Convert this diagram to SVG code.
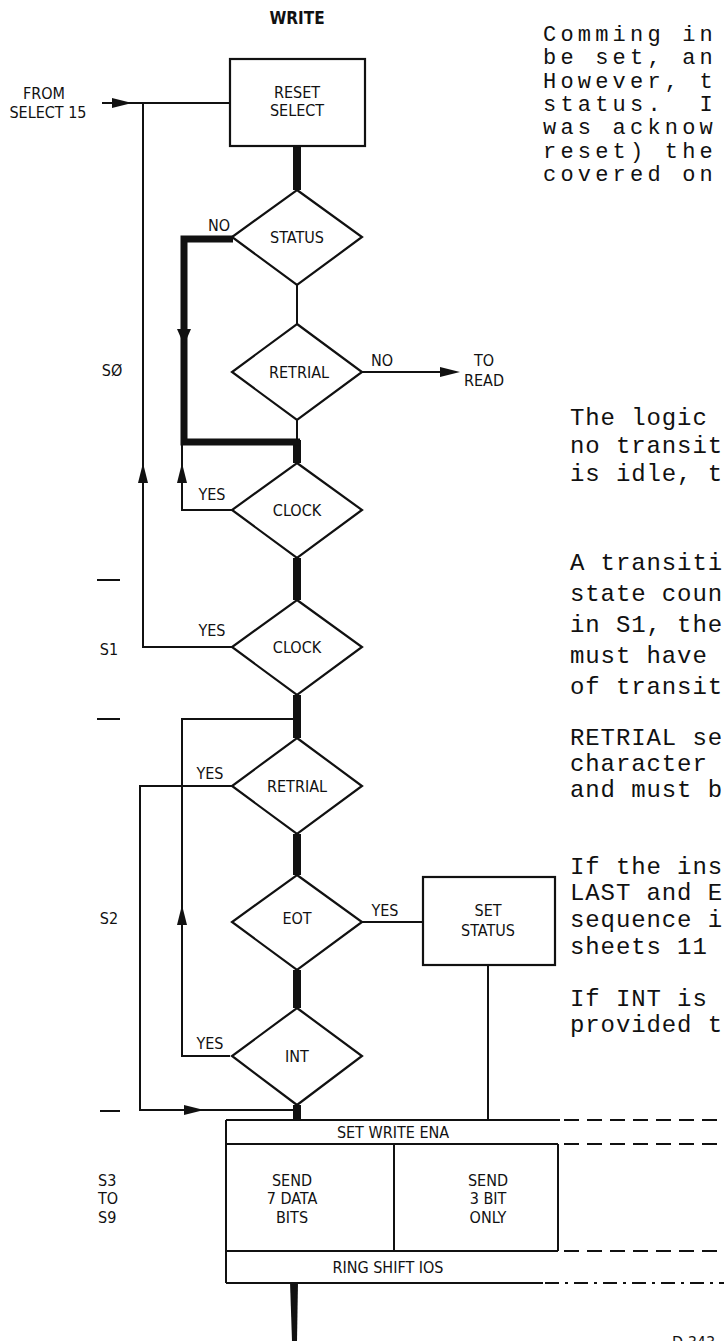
<svg xmlns="http://www.w3.org/2000/svg" xmlns:xlink="http://www.w3.org/1999/xlink" width="724" height="1341" viewBox="0 0 724 1341">
<style>
.lbl{font-family:"DejaVu Sans Condensed","DejaVu Sans",sans-serif;font-stretch:condensed;font-size:16px;fill:#111;text-anchor:middle}
.lft{text-anchor:start}
.ttl{font-weight:bold;font-size:17px}
.tw{font-family:"Liberation Mono","Courier New",monospace;font-size:24px;letter-spacing:0.9px;fill:#111}
.tw1{font-size:22px;letter-spacing:4.2px}
.shape{fill:#fff;stroke:#111;stroke-width:2.2}
.thin{fill:none;stroke:#111;stroke-width:2}
.thick{fill:none;stroke:#111;stroke-width:8}
.thick2{fill:none;stroke:#111;stroke-width:7}
.dash{fill:none;stroke:#111;stroke-width:2;stroke-dasharray:15 8}
.dashdot{fill:none;stroke:#111;stroke-width:2;stroke-dasharray:14 6 3 6}
.tick{stroke:#111;stroke-width:2}
</style>
<defs>
<path id="ah" d="M0,0 L-20,-5 L-20,5 Z" fill="#111"/>
<path id="ahb" d="M0,0 L-16,-7 L-16,7 Z" fill="#111"/>
</defs>
<rect width="724" height="1341" fill="#fff"/>

<text class="lbl ttl" x="297" y="24">WRITE</text>

<g id="connectors">
  <path class="thin" d="M102,103 H230"/>
  <use xlink:href="#ah" transform="translate(132,103)"/>
  <path class="thin" d="M143,103 V647 H232"/>
  <use xlink:href="#ah" transform="translate(143,463) rotate(-90)"/>
  <path class="thick" d="M297,146 V190"/>
  <path class="thin" d="M297,285 V324"/>
  <path class="thin" d="M297,420 V442"/>
  <path class="thick" d="M297,440 V463"/>
  <path class="thick" d="M297,558 V600"/>
  <path class="thick" d="M297,695 V738"/>
  <path class="thick" d="M297,834 V875"/>
  <path class="thick" d="M297,970 V1008"/>
  <path class="thick" d="M297,1105 V1119"/>
  <path d="M290,1282 L298,1282 L297,1341 L292,1341 Z" fill="#111"/>
  <path class="thick2" d="M233,239 H184 V442 H300"/>
  <use xlink:href="#ahb" transform="translate(184,345) rotate(90)"/>
  <path class="thin" d="M362,372 H455"/>
  <use xlink:href="#ah" transform="translate(460,372)"/>
  <path class="thin" d="M232,510 H182 V442"/>
  <use xlink:href="#ah" transform="translate(182,463) rotate(-90)"/>
  <path class="thin" d="M230,1056 H182 V719 H297"/>
  <use xlink:href="#ah" transform="translate(182,905) rotate(-90)"/>
  <path class="thin" d="M232,786 H140 V1110 H297"/>
  <use xlink:href="#ah" transform="translate(204,1110)"/>
  <path class="thin" d="M362,922 H423"/>
  <path class="thin" d="M488,965 V1120"/>
  <path class="tick" d="M97,580 H120 M97,719 H120 M100,1111 H120"/>
</g>

<g id="labels">
  <text class="lbl" x="44" y="99">FROM</text>
  <text class="lbl" x="48" y="118">SELECT 15</text>
  <text class="lbl" x="219" y="231">NO</text>
  <text class="lbl" x="112" y="376">SØ</text>
  <text class="lbl" x="382" y="366">NO</text>
  <text class="lbl" x="484" y="366">TO</text>
  <text class="lbl" x="484" y="386">READ</text>
  <text class="lbl" x="212" y="500">YES</text>
  <text class="lbl" x="212" y="636">YES</text>
  <text class="lbl" x="109" y="655">S1</text>
  <text class="lbl" x="210" y="779">YES</text>
  <text class="lbl" x="385" y="916">YES</text>
  <text class="lbl" x="109" y="924">S2</text>
  <text class="lbl" x="210" y="1049">YES</text>
  <text class="lbl lft" x="98" y="1186">S3</text>
  <text class="lbl lft" x="98" y="1204">TO</text>
  <text class="lbl lft" x="98" y="1223">S9</text>
  <text class="lbl lft" x="672" y="1348">D 343</text>
</g>

<g id="reset-select">
  <rect class="shape" x="230" y="59" width="135" height="87"/>
  <text class="lbl" x="297" y="98">RESET</text>
  <text class="lbl" x="297" y="116">SELECT</text>
</g>
<g id="status">
  <polygon class="shape" points="297,190 362,237 297,285 232,237"/>
  <text class="lbl" x="297" y="243">STATUS</text>
</g>
<g id="retrial1">
  <polygon class="shape" points="297,324 362,372 297,420 232,372"/>
  <text class="lbl" x="299" y="378">RETRIAL</text>
</g>
<g id="clock1">
  <polygon class="shape" points="297,463 362,510 297,558 232,510"/>
  <text class="lbl" x="297" y="516">CLOCK</text>
</g>
<g id="clock2">
  <polygon class="shape" points="297,600 362,647 297,695 232,647"/>
  <text class="lbl" x="297" y="653">CLOCK</text>
</g>
<g id="retrial2">
  <polygon class="shape" points="297,738 362,786 297,834 232,786"/>
  <text class="lbl" x="297" y="792">RETRIAL</text>
</g>
<g id="eot">
  <polygon class="shape" points="297,875 362,922 297,970 232,922"/>
  <text class="lbl" x="297" y="924">EOT</text>
</g>
<g id="int">
  <polygon class="shape" points="297,1008 362,1056 297,1105 232,1056"/>
  <text class="lbl" x="297" y="1062">INT</text>
</g>
<g id="set-status">
  <rect class="shape" x="423" y="877" width="132" height="88"/>
  <text class="lbl" x="488" y="916">SET</text>
  <text class="lbl" x="488" y="936">STATUS</text>
</g>
<g id="write-block">
  <path class="thin" d="M226,1120 H560 M226,1144 H558 M226,1251 H558 M226,1283 H543 M226,1120 V1283 M394,1144 V1251 M558,1144 V1251"/>
  <path class="dash" d="M564,1120 H724 M564,1144 H724 M564,1251 H724"/>
  <path class="dashdot" d="M545,1283 H724"/>
  <text class="lbl" x="393" y="1138">SET WRITE ENA</text>
  <text class="lbl" x="292" y="1186">SEND</text>
  <text class="lbl" x="292" y="1204">7 DATA</text>
  <text class="lbl" x="292" y="1223">BITS</text>
  <text class="lbl" x="488" y="1186">SEND</text>
  <text class="lbl" x="488" y="1204">3 BIT</text>
  <text class="lbl" x="488" y="1223">ONLY</text>
  <text class="lbl" x="388" y="1273">RING SHIFT IOS</text>
</g>

<g id="notes" class="tw">
  <g class="tw1">
    <text x="543" y="41">Comming in</text>
    <text x="543" y="64">be set, an</text>
    <text x="543" y="88">However, t</text>
    <text x="543" y="111" xml:space="preserve">status.  I</text>
    <text x="543" y="134">was acknow</text>
    <text x="543" y="158">reset) the</text>
    <text x="543" y="181">covered on</text>
  </g>

  <text x="570" y="425">The logic</text>
  <text x="570" y="453">no transit</text>
  <text x="570" y="481">is idle, t</text>

  <text x="570" y="570">A transiti</text>
  <text x="570" y="601">state coun</text>
  <text x="570" y="632">in S1, the</text>
  <text x="570" y="663">must have</text>
  <text x="570" y="694">of transit</text>

  <text x="570" y="745">RETRIAL se</text>
  <text x="570" y="771">character</text>
  <text x="570" y="797">and must b</text>

  <text x="570" y="874">If the ins</text>
  <text x="570" y="900">LAST and E</text>
  <text x="570" y="927">sequence i</text>
  <text x="570" y="954">sheets 11</text>

  <text x="570" y="1006">If INT is</text>
  <text x="570" y="1032">provided t</text>
</g>
</svg>
